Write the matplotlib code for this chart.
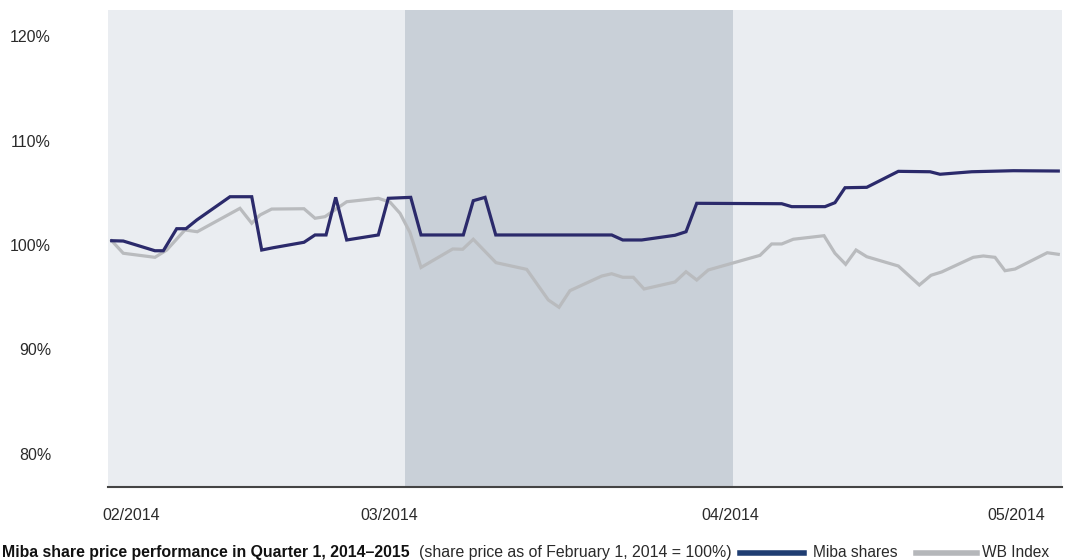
import matplotlib
matplotlib.use("Agg")
import matplotlib.pyplot as plt
from matplotlib.lines import Line2D

plt.rcParams['font.family'] = ['Liberation Sans', 'DejaVu Sans']

# days since start of chart (Feb 2014), share price index in %
miba_days = [0.35, 1.44, 4.43, 5.22, 6.48, 7.36, 8.37, 11.51, 13.56, 14.50, 15.59,
             18.49, 19.53, 20.57, 21.48, 22.52, 25.50, 26.44, 28.56, 29.53, 33.52,
             34.46, 35.57, 36.58, 47.52, 48.56, 50.35, 53.49, 54.53, 55.54, 63.56,
             64.50, 67.64, 68.58, 69.53, 71.58, 74.56, 77.55, 78.49, 81.48, 85.41,
             89.65]
miba_vals = [100.41, 100.38, 99.45, 99.45, 101.56, 101.56, 102.39, 104.62, 104.62,
             99.52, 99.74, 100.26, 100.96, 100.96, 104.56, 100.48, 100.96, 104.47,
             104.56, 100.96, 100.96, 104.24, 104.56, 100.96, 100.96, 100.48, 100.48,
             100.93, 101.27, 103.99, 103.95, 103.67, 103.67, 104.05, 105.48, 105.52,
             107.05, 107.01, 106.77, 107.01, 107.11, 107.08]

wb_days = [0.35, 1.44, 4.43, 5.54, 7.26, 8.42, 12.45, 13.56, 14.34, 15.44, 18.49,
           19.53, 20.47, 22.52, 25.50, 26.60, 27.55, 28.49, 29.53, 32.52, 33.46,
           34.46, 36.60, 39.50, 41.54, 42.55, 43.58, 46.58, 47.52, 48.56, 49.56,
           50.57, 53.49, 54.53, 55.54, 56.63, 61.51, 62.61, 63.56, 64.65, 67.55,
           68.58, 69.59, 70.57, 71.58, 74.56, 76.54, 77.64, 78.65, 81.63, 82.58,
           83.68, 84.62, 85.57, 88.61, 89.65]
wb_vals = [100.41, 99.21, 98.82, 99.52, 101.44, 101.27, 103.51, 102.08, 102.87,
           103.44, 103.47, 102.56, 102.71, 104.14, 104.47, 104.11, 103.03, 101.20,
           97.85, 99.62, 99.59, 100.55, 98.31, 97.67, 94.74, 94.04, 95.63, 97.03,
           97.25, 96.91, 96.91, 95.79, 96.46, 97.44, 96.65, 97.61, 99.01, 100.10,
           100.10, 100.55, 100.89, 99.21, 98.15, 99.52, 98.88, 97.99, 96.17, 97.10,
           97.42, 98.82, 98.95, 98.82, 97.54, 97.70, 99.26, 99.11]

month_starts = [0, 28, 59, 90]
tick_pos = [2.2, 26.5, 58.7, 85.7]
tick_labels = ['02/2014', '03/2014', '04/2014', '05/2014']
y_ticks = [80, 90, 100, 110, 120]

light_bg = '#eaedf1'
dark_bg = '#c9d0d8'
miba_color = '#2b2a6b'
wb_color = '#b9bbbe'

fig = plt.figure(figsize=(10.66, 5.6), dpi=100)
ax = fig.add_axes([108 / 1066, 1 - 487 / 560, 954 / 1066, 477 / 560])
ax.set_facecolor(light_bg)

ax.axvspan(month_starts[1], month_starts[2], color=dark_bg, lw=0, zorder=0)

ax.plot(wb_days, wb_vals, color=wb_color, lw=2.3, zorder=2, solid_joinstyle='miter')
ax.plot(miba_days, miba_vals, color=miba_color, lw=2.3, zorder=3, solid_joinstyle='miter')

ax.set_xlim(month_starts[0], month_starts[-1])
ax.set_ylim(76.84, 122.49)

ax.set_yticks(y_ticks)
ax.set_yticklabels([f'{v}%' for v in y_ticks])
ax.set_xticks(tick_pos)
ax.set_xticklabels(tick_labels)
ax.tick_params(axis='y', length=0, pad=41, labelsize=11.5, labelcolor='#2a2a2a')
ax.tick_params(axis='x', length=0, pad=15, labelsize=11.5, labelcolor='#2a2a2a')

for s in ['top', 'left', 'right']:
    ax.spines[s].set_visible(False)
ax.spines['bottom'].set_color('#444444')
ax.spines['bottom'].set_linewidth(1.5)

# caption with inline legend
ty = 3 / 560
fig.text(2 / 1066, ty, 'Miba share price performance in Quarter 1, 2014\u20132015',
         fontsize=11.4, fontweight='bold', va='baseline', ha='left', color='#111111')
fig.text(419 / 1066, ty, '(share price as of February 1, 2014 = 100%)',
         fontsize=11.4, va='baseline', ha='left', color='#2a2a2a')
ly = 7 / 560
fig.add_artist(Line2D([740 / 1066, 804 / 1066], [ly, ly], color='#1f3d72', lw=4,
                      transform=fig.transFigure))
fig.text(813 / 1066, ty, 'Miba shares', fontsize=11.2, va='baseline', ha='left', color='#2a2a2a')
fig.add_artist(Line2D([916 / 1066, 977 / 1066], [ly, ly], color='#b5b7ba', lw=4,
                      transform=fig.transFigure))
fig.text(982 / 1066, ty, 'WB Index', fontsize=11.2, va='baseline', ha='left', color='#2a2a2a')

fig.savefig('out.png', dpi=100)
